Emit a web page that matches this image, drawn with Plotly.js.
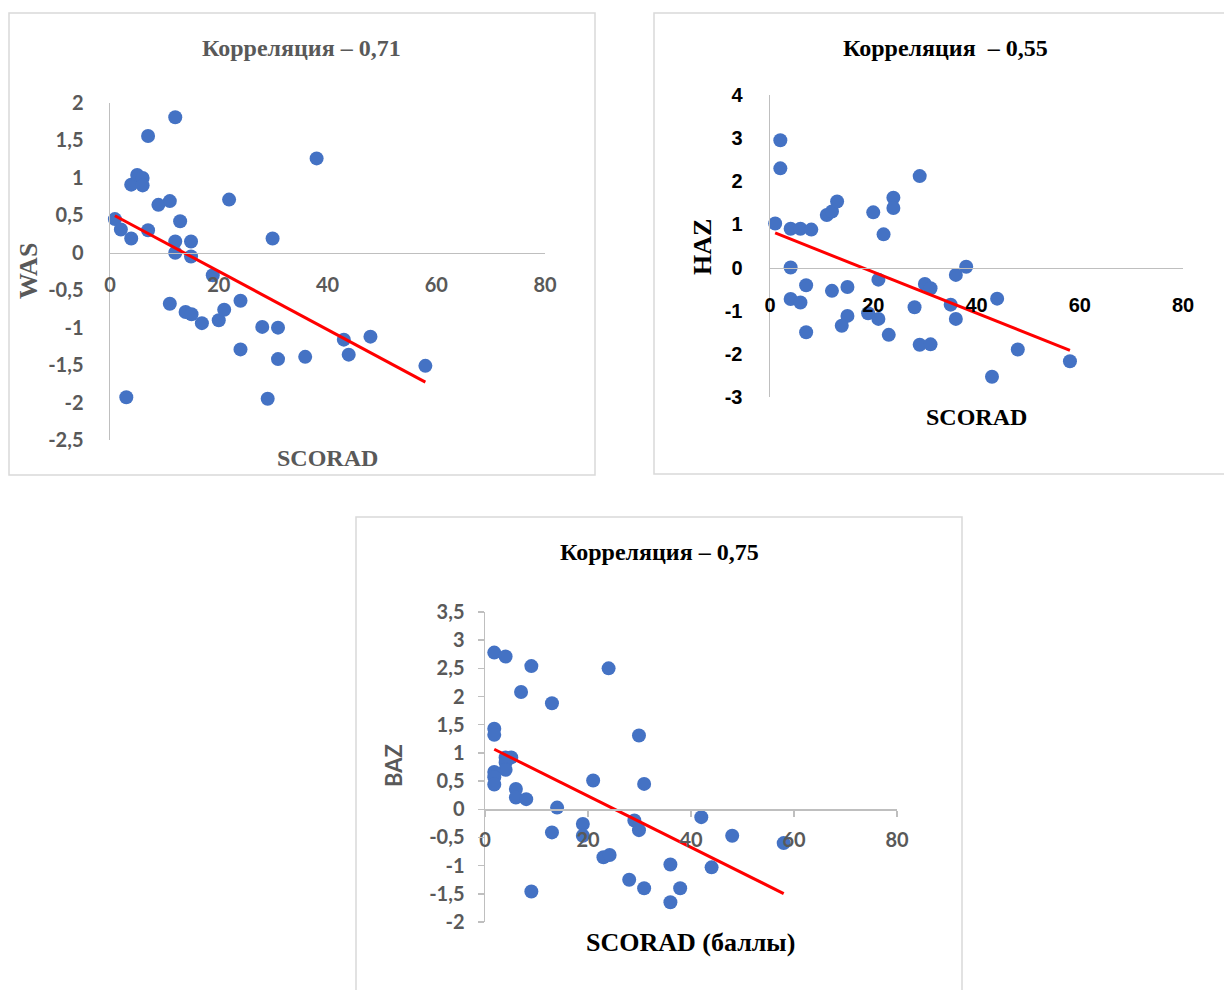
<!DOCTYPE html>
<html><head><meta charset="utf-8">
<script src="https://cdn.plot.ly/plotly-3.0.1.min.js"></script>
<style>html,body{margin:0;padding:0;background:#fff}#chart{width:1224px;height:990px}</style>
</head><body><div id="chart"></div>
<script>
// ---- Data: WAS vs SCORAD ----
const wasX = [0.9, 2, 3.9, 3.9, 5, 6, 6, 7, 7, 8.9, 11, 12, 12.9, 12, 12, 14.9, 14.9, 11, 13.9, 15, 16.9, 18.9, 20, 21, 21.9, 24, 24, 28, 30.9, 29.9, 30.9, 29, 35.9, 38, 43, 43.9, 47.9, 58, 3];
const wasY = [0.45, 0.31, 0.19, 0.91, 1.04, 1.0, 0.9, 1.56, 0.30, 0.64, 0.69, 1.81, 0.42, 0.15, 0.0, 0.15, -0.05, -0.68, -0.79, -0.82, -0.94, -0.30, -0.90, -0.76, 0.71, -0.64, -1.29, -0.99, -1.0, 0.19, -1.42, -1.95, -1.39, 1.26, -1.16, -1.36, -1.12, -1.51, -1.93];
// ---- Data: HAZ vs SCORAD ----
const hazX = [1, 2, 2, 4, 5.9, 8, 4, 4, 5.9, 7, 7, 11, 12, 13, 12, 15, 15, 13.9, 19, 20, 21, 21, 22, 23, 23.9, 23.9, 28, 29, 29, 30, 31.1, 31.1, 35, 36, 36, 38, 44, 43, 48, 58.1];
const hazY = [1.02, 2.95, 2.30, 0.90, 0.90, 0.88, 0.0, -0.73, -0.81, -0.41, -1.50, 1.22, 1.30, 1.53, -0.54, -0.45, -1.12, -1.35, -1.06, 1.28, -0.28, -1.19, 0.77, -1.56, 1.62, 1.38, -0.92, 2.12, -1.79, -0.38, -0.48, -1.78, -0.86, -0.17, -1.19, 0.02, -0.72, -2.53, -1.90, -2.17];
// ---- Data: BAZ vs SCORAD ----
const bazX = [1.8, 4, 9, 7, 13, 24, 1.8, 1.8, 29.9, 4, 5.1, 4, 4, 1.8, 1.8, 1.8, 6, 6, 8, 14, 21, 30.9, 13, 19, 19, 23, 24.2, 28, 29, 29.9, 30.9, 36, 36, 37.9, 42, 44, 48, 58, 9];
const bazY = [2.78, 2.71, 2.54, 2.08, 1.88, 2.50, 1.43, 1.32, 1.31, 0.92, 0.92, 0.83, 0.70, 0.66, 0.57, 0.44, 0.36, 0.21, 0.18, 0.03, 0.51, 0.45, -0.41, -0.26, -0.47, -0.85, -0.81, -1.25, -0.20, -0.37, -1.40, -0.98, -1.65, -1.40, -0.14, -1.03, -0.47, -0.60, -1.46];

// ---- Tick labels ----
const xTickVals = [0, 20, 40, 60, 80];
const xTickText = ['0', '20', '40', '60', '80'];
const wasTickVals = [-2.5, -2, -1.5, -1, -0.5, 0, 0.5, 1, 1.5, 2];
const wasTickText = ['-2,5', '-2', '-1,5', '-1', '-0,5', '0', '0,5', '1', '1,5', '2'];
const hazTickVals = [-3, -2, -1, 0, 1, 2, 3, 4];
const hazTickText = ['-3', '-2', '-1', '0', '1', '2', '3', '4'];
const bazTickVals = [-2, -1.5, -1, -0.5, 0, 0.5, 1, 1.5, 2, 2.5, 3, 3.5];
const bazTickText = ['-2', '-1,5', '-1', '-0,5', '0', '0,5', '1', '1,5', '2', '2,5', '3', '3,5'];

// ---- Text ----
const titles = ['Корреляция – 0,71', 'Корреляция\u00A0\u00A0– 0,55', 'Корреляция – 0,75'];
const yTitles = ['WAS', 'HAZ', 'BAZ'];
const xTitles = ['SCORAD', 'SCORAD', 'SCORAD (баллы)'];

const W = 1224, H = 990;
const px = v => v / W;
const py = v => 1 - v / H;

function fit(xs, ys) {
  const n = xs.length;
  const mx = xs.reduce((a, b) => a + b, 0) / n;
  const my = ys.reduce((a, b) => a + b, 0) / n;
  let sxy = 0, sxx = 0;
  for (let i = 0; i < n; i++) { sxy += (xs[i] - mx) * (ys[i] - my); sxx += (xs[i] - mx) ** 2; }
  const b = sxy / sxx, a = my - b * mx;
  const x0 = Math.min(...xs), x1 = Math.max(...xs);
  return { x: [x0, x1], y: [a + b * x0, a + b * x1] };
}

const SERIF = 'Liberation Serif, Times New Roman, serif';
const CAL = 'Lato, Carlito, Calibri, sans-serif';
const ARIAL = 'Liberation Sans, Arial, sans-serif';
const GREY = '#595959';
const AXC = '#bfbfbf';
const BLUE = '#4472C4';

const panels = [
  { xs: wasX, ys: wasY, xd: [110, 545], yd: [440, 103], yr: [-2.5, 2], tv: wasTickVals, tt: wasTickText,
    tickFont: { family: CAL, size: 20, color: GREY, weight: 'bold' }, ticks: '', xStand: 14, yStand: 21 },
  { xs: hazX, ys: hazY, xd: [770, 1183], yd: [397, 95], yr: [-3, 4], tv: hazTickVals, tt: hazTickText,
    tickFont: { family: ARIAL, size: 20, color: '#000000', weight: 'bold' }, ticks: '', xStand: 19, yStand: 22 },
  { xs: bazX, ys: bazY, xd: [485, 897], yd: [922, 612], yr: [-2, 3.5], tv: bazTickVals, tt: bazTickText,
    tickFont: { family: CAL, size: 20, color: GREY, weight: 'bold' }, ticks: 'outside', xStand: 6, yStand: 9 }
];

const data = [];
const layout = {
  width: W, height: H, margin: { l: 0, r: 0, t: 0, b: 0 },
  paper_bgcolor: '#ffffff', plot_bgcolor: 'rgba(0,0,0,0)',
  showlegend: false, shapes: [], annotations: []
};

panels.forEach((p, i) => {
  const sfx = i === 0 ? '' : String(i + 1);
  const xa = 'x' + sfx, ya = 'y' + sfx;
  const ydom = [py(p.yd[0]), py(p.yd[1])];
  const zeroPos = ydom[0] + (0 - p.yr[0]) / (p.yr[1] - p.yr[0]) * (ydom[1] - ydom[0]);
  layout['xaxis' + sfx] = {
    domain: [px(p.xd[0]), px(p.xd[1])], range: [0, 80], anchor: 'free', position: zeroPos,
    tickvals: xTickVals, ticktext: xTickText, showgrid: false, zeroline: false,
    showline: true, linecolor: AXC, linewidth: 1.5, ticks: p.ticks, ticklen: 6, tickcolor: AXC, tickwidth: 1.5,
    tickfont: p.tickFont, ticklabelstandoff: p.xStand, fixedrange: true
  };
  layout['yaxis' + sfx] = {
    domain: ydom, range: p.yr, anchor: xa, side: 'left',
    tickvals: p.tv, ticktext: p.tt, showgrid: false, zeroline: false,
    showline: true, linecolor: AXC, linewidth: 1.5, ticks: p.ticks, ticklen: 6, tickcolor: AXC, tickwidth: 1.5,
    tickfont: p.tickFont, ticklabelstandoff: p.yStand, fixedrange: true
  };
  data.push({
    type: 'scatter', mode: 'markers', x: p.xs, y: p.ys, xaxis: xa, yaxis: ya,
    marker: { color: BLUE, size: 14 }, cliponaxis: false, hoverinfo: 'skip'
  });
  const t = fit(p.xs, p.ys);
  data.push({
    type: 'scatter', mode: 'lines', x: t.x, y: t.y, xaxis: xa, yaxis: ya,
    line: { color: '#ff0000', width: 3 }, cliponaxis: false, hoverinfo: 'skip'
  });
});

// chart frames
const frames = [[9, 13, 595, 475], [654, 13, 1240, 474], [356, 517, 962, 1010]];
frames.forEach(f => layout.shapes.push({
  type: 'rect', xref: 'paper', yref: 'paper', x0: px(f[0]), x1: px(f[2]), y0: py(f[3]), y1: py(f[1]),
  line: { color: '#d9d9d9', width: 1.5 }, fillcolor: 'rgba(0,0,0,0)', layer: 'below'
}));

function ann(text, x, y, font, angle) {
  layout.annotations.push({ text, xref: 'paper', yref: 'paper', x: px(x), y: py(y),
    xanchor: 'center', yanchor: 'middle', showarrow: false, font, textangle: angle || 0 });
}
// titles
ann(titles[0], 301, 48, { family: SERIF, size: 24, color: GREY, weight: 'bold' });
ann(titles[1], 945, 48, { family: SERIF, size: 24, color: '#000000', weight: 'bold' });
ann(titles[2], 659, 552, { family: SERIF, size: 24, color: '#000000', weight: 'bold' });
// axis titles
ann(yTitles[0], 28, 271, { family: SERIF, size: 26, color: GREY, weight: 'bold' }, -90);
ann(xTitles[0], 327, 458, { family: SERIF, size: 24, color: GREY, weight: 'bold' });
ann(yTitles[1], 703, 247, { family: SERIF, size: 26, color: '#000000', weight: 'bold' }, -90);
ann(xTitles[1], 976, 417, { family: SERIF, size: 24, color: '#000000', weight: 'bold' });
ann(yTitles[2], 393, 766, { family: CAL, size: 22, color: GREY, weight: 'bold' }, -90);
ann(xTitles[2], 690, 942, { family: SERIF, size: 26, color: '#000000', weight: 'bold' });

Plotly.newPlot('chart', data, layout, { staticPlot: true, displayModeBar: false });
</script>
</body></html>
